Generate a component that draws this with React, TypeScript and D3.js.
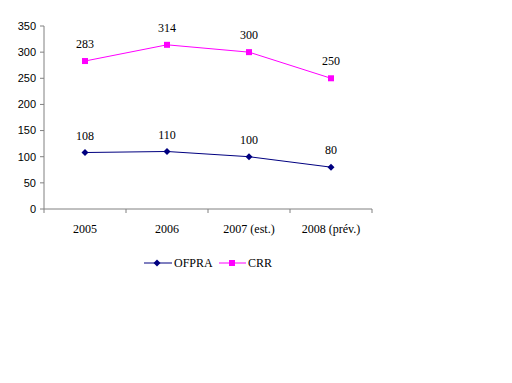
import React from "react";
import * as d3 from "d3";

const categories = ["2005", "2006", "2007 (est.)", "2008 (prév.)"];
const ofpra = [108, 110, 100, 80];
const crr = [283, 314, 300, 250];
const yTicks = [0, 50, 100, 150, 200, 250, 300, 350];

export default function App() {
  const W = 512, H = 383;
  const left = 44, right = 372, top = 26, bottom = 209;
  const x = d3.scaleBand<string>().domain(categories).range([left, right]);
  const y = d3.scaleLinear().domain([0, 350]).range([bottom, top]);
  const line = d3.line<number>().x((_, i) => x(categories[i])! + x.bandwidth() / 2).y((d) => y(d));
  const cx = (i: number) => x(categories[i])! + x.bandwidth() / 2;
  const axisColor = "#808080";
  const serif = "Liberation Serif, Times New Roman, serif";
  const sans = "Liberation Sans, Arial, sans-serif";
  const diamond = "M0,-3.5L3.5,0L0,3.5L-3.5,0Z";
  return (
    <svg width={W} height={H} style={{ position: "absolute", left: 0, top: 0 }}>
      <rect width={W} height={H} fill="#fff" />
      <line x1={left} x2={left} y1={top} y2={bottom} stroke={axisColor} />
      {yTicks.map((t) => (
        <g key={t}>
          <line x1={left - 4} x2={left} y1={y(t)} y2={y(t)} stroke={axisColor} />
          <text x={36} y={y(t)} dy="0.35em" textAnchor="end" fontFamily={sans} fontSize={11} fill="#000">{t}</text>
        </g>
      ))}
      <line x1={left} x2={right} y1={bottom} y2={bottom} stroke={axisColor} />
      {[...categories.map((c) => x(c)!), right].map((p, i) => (
        <line key={i} x1={p} x2={p} y1={bottom} y2={bottom + 4} stroke={axisColor} />
      ))}
      {categories.map((c, i) => (
        <text key={c} x={cx(i)} y={229} dy="0.35em" textAnchor="middle" fontFamily={serif} fontSize={12} fill="#000">{c}</text>
      ))}
      <path d={line(crr)!} fill="none" stroke="#FF00FF" strokeWidth={1} />
      <path d={line(ofpra)!} fill="none" stroke="#000080" strokeWidth={1} />
      {crr.map((v, i) => (
        <g key={"c" + i}>
          <rect x={cx(i) - 3} y={y(v) - 3} width={6} height={6} fill="#FF00FF" />
          <text x={cx(i)} y={y(v) - 17} dy="0.35em" textAnchor="middle" fontFamily={serif} fontSize={12} fill="#000">{v}</text>
        </g>
      ))}
      {ofpra.map((v, i) => (
        <g key={"o" + i}>
          <path d={diamond} transform={`translate(${cx(i)},${y(v)})`} fill="#000080" />
          <text x={cx(i)} y={y(v) - 17} dy="0.35em" textAnchor="middle" fontFamily={serif} fontSize={12} fill="#000">{v}</text>
        </g>
      ))}
      <g>
        <line x1={144} x2={172} y1={263} y2={263} stroke="#000080" />
        <path d={diamond} transform="translate(157,263)" fill="#000080" />
        <text x={174} y={263} dy="0.35em" fontFamily={serif} fontSize={12} fill="#000">OFPRA</text>
        <line x1={219} x2={246} y1={263} y2={263} stroke="#FF00FF" />
        <rect x={229} y={260} width={6} height={6} fill="#FF00FF" />
        <text x={248} y={263} dy="0.35em" fontFamily={serif} fontSize={12} fill="#000">CRR</text>
      </g>
    </svg>
  );
}
